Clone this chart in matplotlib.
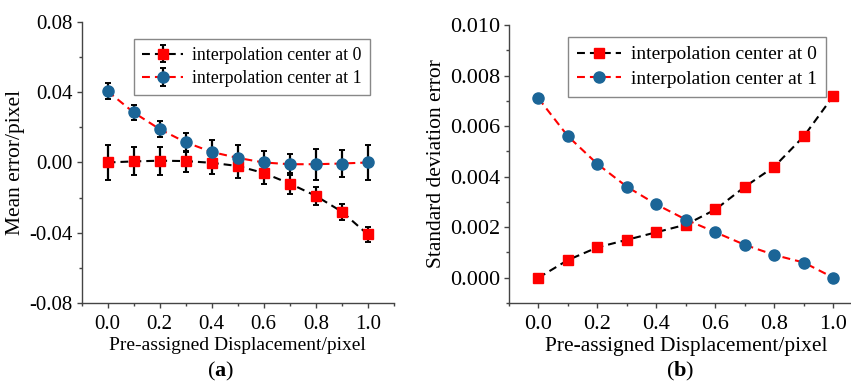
import numpy as np
import matplotlib.pyplot as plt
from matplotlib.ticker import MultipleLocator, FormatStrFormatter

plt.rcParams['font.family'] = ['Liberation Serif', 'DejaVu Serif']
plt.rcParams['mathtext.fontset'] = 'custom'
plt.rcParams['mathtext.bf'] = 'Liberation Serif:bold'
plt.rcParams['mathtext.rm'] = 'Liberation Serif'

disp = [0.0, 0.1, 0.2, 0.3, 0.4, 0.5, 0.6, 0.7, 0.8, 0.9, 1.0]

# (a) mean error with error bars
mean_c0 = [0.0, 0.0006, 0.001, 0.0008, -0.0002, -0.002, -0.006, -0.012, -0.019, -0.028, -0.041]
err_c0 = [0.0099, 0.008, 0.008, 0.006, 0.0065, 0.007, 0.006, 0.006, 0.005, 0.0045, 0.0045]
mean_c1 = [0.0406, 0.0285, 0.019, 0.0115, 0.006, 0.0026, 0.0, -0.001, -0.001, -0.0006, 0.0]
err_c1 = [0.0047, 0.0045, 0.0047, 0.0055, 0.007, 0.0073, 0.0066, 0.006, 0.0088, 0.0078, 0.01]

# (b) standard deviation error
std_c0 = [0.0, 0.0007, 0.0012, 0.0015, 0.0018, 0.0021, 0.0027, 0.0036, 0.0044, 0.0056, 0.0072]
std_c1 = [0.0071, 0.0056, 0.0045, 0.0036, 0.0029, 0.0023, 0.0018, 0.0013, 0.0009, 0.0006, 0.0]

labels = ['interpolation center at 0', 'interpolation center at 1']
blue = '#1b6597'
red = '#ff0000'

fig = plt.figure(figsize=(8.51, 3.85), dpi=100)
ax1 = fig.add_axes([0.0958, 0.213, 0.367, 0.730])
ax2 = fig.add_axes([0.598, 0.213, 0.416, 0.722])


def style(ax, tick_fs, xlab_fs):
    for s in ['top', 'right']:
        ax.spines[s].set_visible(False)
    for s in ['left', 'bottom']:
        ax.spines[s].set_color('#444444')
        ax.spines[s].set_linewidth(1.0)
    ax.tick_params(which='major', direction='out', length=3.5, width=1, pad=3,
                   labelsize=tick_fs, colors='#444444', labelcolor='black')
    ax.tick_params(which='minor', direction='out', length=2.5, width=1, colors='#444444')
    ax.tick_params(axis='x', which='major', pad=5)
    ax.xaxis.set_major_locator(MultipleLocator(0.2))
    ax.xaxis.set_minor_locator(MultipleLocator(0.1))
    ax.xaxis.set_major_formatter(FormatStrFormatter('%.1f'))
    ax.set_xlim(-0.1, 1.1)
    ax.set_xlabel('Pre-assigned Displacement/pixel', fontsize=xlab_fs, labelpad=2)


dash = (0, (3.8, 2.4))
leg_kw = dict(loc='upper right', fancybox=False, edgecolor='#888888',
              framealpha=1, handlelength=2.3, borderpad=0.45, labelspacing=0.35,
              handletextpad=0.5, borderaxespad=0)

ax1.errorbar(disp, mean_c0, yerr=err_c0, color='black', ls=dash, lw=1.5,
             marker='s', ms=7, mfc=red, mec=red, ecolor='black', elinewidth=1.6,
             capsize=2.5, capthick=1.4, label=labels[0], zorder=3)
ax1.errorbar(disp, mean_c1, yerr=err_c1, color=red, ls=dash, lw=1.5,
             marker='o', ms=8, mfc=blue, mec=blue, ecolor='black', elinewidth=1.6,
             capsize=2.5, capthick=1.4, label=labels[1], zorder=3)
style(ax1, 15, 14)
ax1.set_ylim(-0.08, 0.08)
ax1.yaxis.set_major_locator(MultipleLocator(0.04))
ax1.yaxis.set_minor_locator(MultipleLocator(0.02))
ax1.yaxis.set_major_formatter(FormatStrFormatter('%.2f'))
ax1.set_ylabel('Mean error/pixel', fontsize=15.5, labelpad=3)
leg1 = ax1.legend(bbox_to_anchor=(0.923, 0.94), fontsize=12.8, **leg_kw)
leg1.get_frame().set_linewidth(1.0)

ax2.plot(disp, std_c0, color='black', ls=dash, lw=1.5, marker='s', ms=7,
         mfc=red, mec=red, label=labels[0])
ax2.plot(disp, std_c1, color=red, ls=dash, lw=1.5, marker='o', ms=8,
         mfc=blue, mec=blue, label=labels[1])
style(ax2, 16, 15.5)
ax2.set_ylim(-0.001, 0.010)
ax2.yaxis.set_major_locator(MultipleLocator(0.002))
ax2.yaxis.set_minor_locator(MultipleLocator(0.001))
ax2.yaxis.set_major_formatter(FormatStrFormatter('%.3f'))
ax2.set_ylabel('Standard deviation error', fontsize=15.5, labelpad=3)
leg2 = ax2.legend(bbox_to_anchor=(0.895, 0.957), fontsize=14, **leg_kw)
leg2.get_frame().set_linewidth(1.0)

fig.text(0.259, 0.005, r'($\mathbf{a}$)', ha='center', va='bottom', fontsize=16)
fig.text(0.799, 0.005, r'($\mathbf{b}$)', ha='center', va='bottom', fontsize=16)

fig.savefig('out.png', dpi=100)
